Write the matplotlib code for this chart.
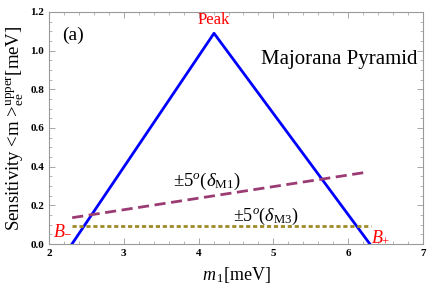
import matplotlib
matplotlib.use("Agg")
import matplotlib.pyplot as plt
from matplotlib.ticker import MultipleLocator, FormatStrFormatter

plt.rcParams['font.family'] = ['Liberation Serif', 'DejaVu Serif']
plt.rcParams['mathtext.fontset'] = 'custom'
plt.rcParams['mathtext.rm'] = 'Liberation Serif'
plt.rcParams['mathtext.it'] = 'Liberation Serif:italic'

pyramid_x = [2.307, 4.206, 6.29]
pyramid_y = [0.0, 1.09, 0.0]
m1_x = [2.31, 6.24]
m1_y = [0.136, 0.371]
m3_x = [2.31, 6.30]
m3_y = [0.095, 0.095]

fig = plt.figure(figsize=(4.36, 2.86), dpi=100)
ax = fig.add_axes([49/436, 1-244/286, (423-49)/436, (244-12)/286])

ax.plot(pyramid_x, pyramid_y, color='#0000ff', lw=2.0)
ax.plot(m1_x, m1_y, color='#9b3b73', lw=2.0, dashes=(4, 2))
ax.plot(m3_x, m3_y, color='#a08a28', lw=2.0, dashes=(1.5, 1))

ax.set_xlim(2, 7)
ax.set_ylim(0, 1.2)
ax.xaxis.set_major_locator(MultipleLocator(1))
ax.xaxis.set_minor_locator(MultipleLocator(0.2))
ax.yaxis.set_major_locator(MultipleLocator(0.2))
ax.yaxis.set_minor_locator(MultipleLocator(0.05))
ax.yaxis.set_major_formatter(FormatStrFormatter('%.1f'))
ax.tick_params(which='both', direction='in', top=True, right=True, colors='#999999',
               labelcolor='black', labelsize=8)
ax.tick_params(which='major', length=4, width=0.6)
ax.tick_params(which='minor', length=2, width=0.5)
for lab in ax.get_xticklabels() + ax.get_yticklabels():
    lab.set_fontweight('bold')
for s in ax.spines.values():
    s.set_color('#999999')
    s.set_linewidth(0.8)

ax.set_xlabel(r'$\mathit{m}_{\,1}$[meV]', fontsize=13, labelpad=5)
ax.set_ylabel(r'Sensitivity <m >$_{\rm ee}^{\rm upper}$[meV]', fontsize=13.5, labelpad=3)

ax.text(4.206, 1.115, 'Peak', color='red', fontsize=12, ha='center', va='bottom')
ax.text(2.17, 1.08, '(a)', fontsize=14, ha='left', va='center')
ax.text(6.92, 0.955, 'Majorana Pyramid', fontsize=15, ha='right', va='center')
ax.text(4.11, 0.326, r'$\pm 5^{o}(\delta_{\rm M1})$', fontsize=13.5, ha='center', va='center')
ax.text(4.9, 0.14, r'$\pm 5^{o}(\delta_{\rm M3})$', fontsize=13, ha='center', va='center')
ax.text(2.06, 0.07, r'$B_{-}$', color='red', fontsize=13, ha='left', va='center')
ax.text(6.31, 0.035, r'$B_{+}$', color='red', fontsize=13, ha='left', va='center')

fig.savefig('out.png', dpi=100)
